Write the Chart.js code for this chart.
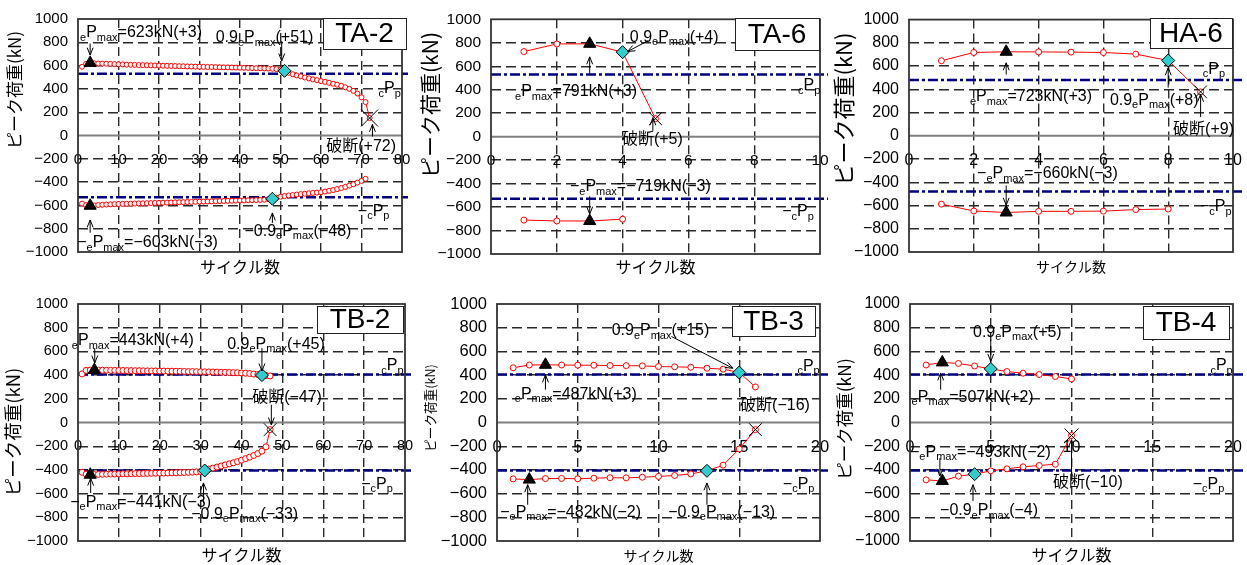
<!DOCTYPE html>
<html>
<head>
<meta charset="utf-8">
<script src="https://cdn.jsdelivr.net/npm/chart.js@4.4.0/dist/chart.umd.min.js"></script>
<style>
  body { margin: 0; background: #fff; width: 1247px; height: 565px; position: relative; overflow: hidden; }
  canvas { position: absolute; }
</style>
</head>
<body>
<canvas id="c1" style="left:0;top:0"></canvas>
<canvas id="c2" style="left:415px;top:0"></canvas>
<canvas id="c3" style="left:830px;top:0"></canvas>
<canvas id="c4" style="left:0;top:283px"></canvas>
<canvas id="c5" style="left:415px;top:283px"></canvas>
<canvas id="c6" style="left:830px;top:283px"></canvas>
<script>
// peak load per cycle (kN), cycle = index + 1
const ta2Pos = [590, 615, 623, 620, 618, 617, 616, 615, 613, 611,
  610, 608, 607, 606, 605, 604, 603, 602, 601, 600,
  599, 598, 597, 596, 595, 594, 593, 592, 591, 590,
  589, 588, 588, 587, 586, 585, 585, 584, 583, 582,
  581, 580, 579, 578, 577, 576, 575, 573, 570, 566,
  555, 538, 526, 516, 508, 498, 490, 482, 475, 467,
  460, 452, 444, 436, 426, 414, 400, 383, 360, 328,
  287, 150];
const ta2Neg = [-585, -598, -603, -600, -597, -595, -593, -591, -589, -588,
  -587, -586, -585, -584, -583, -582, -581, -580, -579, -578,
  -577, -576, -575, -574, -573, -572, -571, -570, -569, -568,
  -567, -566, -565, -564, -563, -562, -561, -560, -559, -558,
  -557, -556, -555, -554, -553, -551, -548, -543, -533, -526,
  -520, -515, -511, -507, -503, -500, -496, -493, -490, -487,
  -481, -475, -468, -460, -451, -441, -430, -418, -405, -390,
  -372];
const ta6Pos = [725, 790, 791, 720, 153];
const ta6Neg = [-711, -718, -719, -703];
const ha6Pos = [646, 717, 723, 722, 720, 717, 703, 648, 378];
const ha6Neg = [-588, -647, -660, -650, -650, -648, -635, -630];
const tb2Pos = [410, 440, 442, 443, 442, 441, 441, 440, 440, 439,
  439, 438, 438, 437, 437, 436, 436, 435, 435, 434,
  434, 433, 433, 432, 432, 431, 430, 430, 429, 428,
  428, 427, 426, 425, 424, 423, 422, 421, 420, 418,
  416, 413, 409, 405, 400, 397, 393];
const tb2Neg = [-420, -436, -441, -440, -438, -437, -436, -435, -435, -434,
  -433, -433, -432, -431, -431, -430, -429, -429, -428, -427,
  -427, -426, -425, -424, -423, -422, -421, -419, -417, -414,
  -405, -393, -385, -376, -367, -358, -349, -340, -330, -318,
  -305, -292, -278, -262, -242, -205, -60];
const tb3Pos = [462, 485, 487, 485, 484, 483, 481, 480, 478, 472, 470, 466, 458, 450, 422, 300];
const tb3Neg = [-476, -482, -473, -472, -475, -470, -466, -467, -462, -455, -447, -434, -408, -360, -223, -60];
const tb4Pos = [485, 507, 498, 477, 452, 430, 416, 405, 388, 368];
const tb4Neg = [-484, -493, -453, -436, -408, -391, -374, -363, -352, -110];

// marked cycles: + = positive side, - = negative side
const ta2Peak = [3, -3], ta2Deg = [51, -48], ta2Brk = [72];
const ta6Peak = [3, -3], ta6Deg = [4], ta6Brk = [5];
const ha6Peak = [3, -3], ha6Deg = [8], ha6Brk = [9];
const tb2Peak = [4, -3], tb2Deg = [45, -31], tb2Brk = [-47];
const tb3Peak = [3, -2], tb3Deg = [15, -13], tb3Brk = [-16];
const tb4Peak = [2, -2], tb4Deg = [5, -4], tb4Brk = [-10];

// cPp levels (kN)
const taCpp = 530, haCpp = 480, tbCpp = 405;

// text notes [text, x, y], [..] = subscript ; arrows [x1, y1, x2, y2] in data units
const ta2Notes = [['[e]P[max]=623kN(+3)', 0.5, 895], ['0.9[e]P[max](+51)', 34, 852], ['[c]P[p]', 74.2, 410],
  ['破断(+72)', 61.3, -85], ['−[c]P[p]', 69.1, -640], ['−0.9[e]P[max](−48)', 41.1, -810], ['−[e]P[max]=−603kN(−3)', -0.2, -910]];
const ta2Arrows = [[3, 790, 3, 690], [50.3, 810, 50.3, 640], [72.7, -10, 72.7, 95], [3, -835, 3, -725], [48, -750, 48, -665]];
const ta6Notes = [['0.9[e]P[max](+4)', 4.22, 859], ['[e]P[max]=791kN(+3)', 0.73, 395], ['破断(+5)', 3.98, -15],
  ['−[e]P[max]=−719kN(−3)', 2.4, -418], ['[c]P[p]', 9.33, 446], ['−[c]P[p]', 8.85, -627]];
const ta6Arrows = [[4.77, 817, 4.15, 725], [3, 538, 3, 680], [4.92, 50, 4.92, 160], [3, -508, 3, -660]];
const ha6Notes = [['[e]P[max]=723kN(+3)', 1.88, 348], ['0.9[e]P[max](+8)', 6.2, 315], ['破断(+9)', 8.15, 62],
  ['[c]P[p]', 9.07, 585], ['−[c]P[p]', 8.98, -600], ['−[e]P[max]=−660kN(−3)', 2.1, -316]];
const ha6Arrows = [[3, 527, 3, 628], [8, 415, 8, 585], [9, 162, 9, 357], [3, -428, 3, -597]];
const tb2Notes = [['[e]P[max]=443kN(+4)', -1.5, 699], ['0.9[e]P[max](+45)', 36.5, 671], ['破断(−47)', 42.6, 224],
  ['[c]P[p]', 74.2, 488], ['−[c]P[p]', 69.3, -510], ['−[e]P[max]=−441kN(−3)', -1.9, -662], ['−0.9[e]P[max](−33)', 27.7, -764]];
const tb2Arrows = [[4.1, 629, 4.1, 502], [45, 629, 45, 435], [47.3, 150, 47.3, -20], [3.1, -595, 3.1, -470], [30.7, -680, 30.7, -510]];
const tb3Notes = [['0.9[e]P[max](+15)', 7.1, 783], ['[e]P[max]=487kN(+3)', 1.1, 249], ['破断(−16)', 15.05, 150],
  ['[c]P[p]', 18.6, 486], ['−[c]P[p]', 17.7, -510], ['−[e]P[max]=−482kN(−2)', 0.2, -747], ['−0.9[e]P[max](−13)', 10.6, -747]];
const tb3Arrows = [[10.8, 726, 14.6, 458], [3, 277, 3, 402], [1.9, -694, 1.9, -525], [13, -694, 13, -510]];
const tb4Notes = [['0.9[e]P[max](+5)', 3.9, 772], ['[e]P[max]=507kN(+2)', 0.1, 224], ['−[e]P[max]=−493kN(−2)', 0, -240],
  ['−0.9[e]P[max](−4)', 1.86, -735], ['破断(−10)', 8.85, -494], ['[c]P[p]', 18.6, 488], ['−[c]P[p]', 17.5, -510]];
const tb4Arrows = [[5, 699, 5, 516], [1.9, 277, 1.9, 418], [1.85, -300, 1.85, -452], [3.9, -662, 3.9, -525], [10, -440, 10, -145]];

const FONT = '"Liberation Sans", Arial, "Noto Sans CJK JP", sans-serif';
const JFONT = '"Noto Sans CJK JP", sans-serif';

const panels = [
  { id: 'c1', w: 415, h: 283, area: [78, 15, 407, 252], name: 'TA-2', xMax: 80, xStep: 10, pos: ta2Pos, neg: ta2Neg,
    peak: ta2Peak, deg: ta2Deg, brk: ta2Brk, cpp: taCpp, notes: ta2Notes, arrows: ta2Arrows,
    box: [323, 18, 83, 31], yTitle: [15, 90, 17], xTitle: [267, 16], tick: 15, dot: 2.5, cross: 12, ext: 6 },
  { id: 'c2', w: 415, h: 283, area: [76, 15, 405, 254], name: 'TA-6', xMax: 10, xStep: 2, pos: ta6Pos, neg: ta6Neg,
    peak: ta6Peak, deg: ta6Deg, brk: ta6Brk, cpp: taCpp, notes: ta6Notes, arrows: ta6Arrows,
    box: [320, 18, 84, 32], yTitle: [15, 105, 21], xTitle: [267, 16], tick: 15.5, dot: 3, cross: 9, ext: 8 },
  { id: 'c3', w: 417, h: 283, area: [79, 15, 403, 252], name: 'HA-6', xMax: 10, xStep: 2, pos: ha6Pos, neg: ha6Neg,
    peak: ha6Peak, deg: ha6Deg, brk: ha6Brk, cpp: haCpp, notes: ha6Notes, arrows: ha6Arrows,
    box: [320, 18, 82, 30], yTitle: [14, 109, 22], xTitle: [267, 14], tick: 16, dot: 3, cross: 9, ext: 12 },
  { id: 'c4', w: 415, h: 282, area: [78, 21, 407, 258], name: 'TB-2', xMax: 80, xStep: 10, pos: tb2Pos, neg: tb2Neg,
    peak: tb2Peak, deg: tb2Deg, brk: tb2Brk, cpp: tbCpp, notes: tb2Notes, arrows: tb2Arrows,
    box: [317, 23, 86, 27], yTitle: [13, 149, 18.5], xTitle: [272, 16], tick: 14.5, dot: 3, cross: 9, ext: 8 },
  { id: 'c5', w: 415, h: 282, area: [82, 21, 405, 258], name: 'TB-3', xMax: 20, xStep: 5, pos: tb3Pos, neg: tb3Neg,
    peak: tb3Peak, deg: tb3Deg, brk: tb3Brk, cpp: tbCpp, notes: tb3Notes, arrows: tb3Arrows,
    box: [317, 23, 83, 30], yTitle: [15, 125, 12.6], xTitle: [273, 14], tick: 16.5, dot: 3, cross: 9, ext: 8 },
  { id: 'c6', w: 417, h: 282, area: [80, 21, 403, 258], name: 'TB-4', xMax: 20, xStep: 5, pos: tb4Pos, neg: tb4Neg,
    peak: tb4Peak, deg: tb4Deg, brk: tb4Brk, cpp: tbCpp, notes: tb4Notes, arrows: tb4Arrows,
    box: [313, 23, 86, 33], yTitle: [14, 136, 17.5], xTitle: [272, 16], tick: 16, dot: 3, cross: 10, ext: 12 }
];

// text with [subscript] parts, left aligned, vertically centred on y
function richText(ctx, str, x, y, size) {
  const big = size + 'px ' + FONT;
  const small = Math.round(size * 0.68) + 'px ' + FONT;
  let cx = x;
  ctx.textAlign = 'left';
  ctx.textBaseline = 'alphabetic';
  str.split(/(\[[^\]]*\])/).forEach(s => {
    if (!s) return;
    const sub = s[0] === '[';
    const t = sub ? s.slice(1, -1) : s;
    ctx.font = sub ? small : big;
    ctx.fillText(t, cx, y + size * 0.36 + (sub ? size * 0.22 : 0));
    cx += ctx.measureText(t).width;
  });
}

function arrow(ctx, x1, y1, x2, y2) {
  const a = Math.atan2(y2 - y1, x2 - x1), len = 8, sp = 0.38;
  ctx.beginPath();
  ctx.moveTo(x1, y1);
  ctx.lineTo(x2, y2);
  ctx.moveTo(x2 - len * Math.cos(a - sp), y2 - len * Math.sin(a - sp));
  ctx.lineTo(x2, y2);
  ctx.lineTo(x2 - len * Math.cos(a + sp), y2 - len * Math.sin(a + sp));
  ctx.stroke();
}

function makeDeco(p) {
  return {
    id: 'deco',
    beforeDatasetsDraw(chart) {
      const { ctx, chartArea: a, scales: { x, y } } = chart;
      ctx.save();
      const y0 = y.getPixelForValue(0);
      ctx.strokeStyle = '#808080';
      ctx.lineWidth = 2;
      ctx.beginPath();
      ctx.moveTo(a.left, y0);
      ctx.lineTo(a.right, y0);
      ctx.stroke();
      ctx.strokeStyle = '#000080';
      ctx.lineWidth = 2.5;
      ctx.setLineDash([10, 3, 3, 3]);
      [p.cpp, -p.cpp].forEach(v => {
        const py = y.getPixelForValue(v);
        ctx.beginPath();
        ctx.moveTo(a.left, py);
        ctx.lineTo(a.right + p.ext, py);
        ctx.stroke();
      });
      ctx.restore();
    },
    afterDraw(chart) {
      const { ctx, chartArea: a, scales: { x, y } } = chart;
      ctx.save();
      ctx.strokeStyle = '#333';
      ctx.lineWidth = 1.8;
      ctx.strokeRect(a.left, a.top, a.right - a.left, a.bottom - a.top);

      ctx.fillStyle = '#000';
      ctx.strokeStyle = '#000';
      ctx.lineWidth = 1;
      p.notes.forEach(n => richText(ctx, n[0], x.getPixelForValue(n[1]), y.getPixelForValue(n[2]), 16));
      p.arrows.forEach(r => arrow(ctx, x.getPixelForValue(r[0]), y.getPixelForValue(r[1]),
        x.getPixelForValue(r[2]), y.getPixelForValue(r[3])));

      const [bx, by, bw, bh] = p.box;
      ctx.fillStyle = '#fff';
      ctx.fillRect(bx, by, bw, bh);
      ctx.strokeStyle = '#222';
      ctx.strokeRect(bx + 0.5, by + 0.5, bw, bh);
      ctx.fillStyle = '#000';
      ctx.font = '28px ' + FONT;
      ctx.textAlign = 'center';
      ctx.textBaseline = 'middle';
      ctx.fillText(p.name, bx + bw / 2, by + bh / 2 + 1);

      ctx.font = p.xTitle[1] + 'px ' + JFONT;
      ctx.fillText('サイクル数', (a.left + a.right) / 2, p.xTitle[0]);

      ctx.translate(p.yTitle[0], p.yTitle[1]);
      ctx.rotate(-Math.PI / 2);
      ctx.font = p.yTitle[2] + 'px ' + JFONT;
      ctx.fillText('ピーク荷重(kN)', 0, 0);
      ctx.restore();
    }
  };
}

function makeChart(p) {
  const [L, T, R, B] = p.area;
  const at = c => ({ x: Math.abs(c), y: c > 0 ? p.pos[c - 1] : p.neg[-c - 1] });
  const series = arr => ({
    data: arr.map((v, i) => ({ x: i + 1, y: v })),
    borderColor: '#ff0000', borderWidth: 1, tension: 0,
    pointRadius: p.dot, pointBorderColor: '#ff0000', pointBackgroundColor: '#ffffff', pointBorderWidth: 1
  });
  const canvas = document.getElementById(p.id);
  canvas.width = p.w;
  canvas.height = p.h;
  new Chart(canvas, {
    type: 'line',
    data: {
      datasets: [
        { data: p.brk.map(at), showLine: false, pointStyle: 'crossRot', pointRadius: p.cross,
          pointBorderColor: '#000', pointBorderWidth: 1 },
        { data: p.peak.map(at), showLine: false, pointStyle: 'triangle', pointRadius: 7,
          pointBackgroundColor: '#000', pointBorderColor: '#000' },
        { data: p.deg.map(at), showLine: false, pointStyle: 'rectRot', pointRadius: 6.5,
          pointBackgroundColor: '#33cccc', pointBorderColor: '#000', pointBorderWidth: 1 },
        series(p.pos),
        series(p.neg)
      ]
    },
    options: {
      responsive: false,
      animation: false,
      layout: { padding: { left: 0, top: T, right: p.w - R, bottom: p.h - B } },
      plugins: { legend: { display: false }, tooltip: { enabled: false } },
      scales: {
        x: {
          type: 'linear', position: { y: 0 }, min: 0, max: p.xMax,
          ticks: { stepSize: p.xStep, padding: 15, color: '#000', maxRotation: 0, autoSkip: false,
            font: { family: FONT, size: p.tick } },
          grid: { drawTicks: false, lineWidth: 1.4,
            color: c => (c.tick && (c.tick.value === 0 || c.tick.value === p.xMax)) ? 'rgba(0,0,0,0)' : '#2a2a2a' },
          border: { display: false, dash: [9, 5] },
          afterFit: s => { s.paddingLeft = 0; s.paddingRight = 0; }
        },
        y: {
          min: -1000, max: 1000,
          ticks: { stepSize: 200, padding: 10, color: '#000', font: { family: FONT, size: p.tick },
            callback: v => String(v).replace('-', '−') },
          grid: { drawTicks: false, lineWidth: 1.4,
            color: c => (c.tick && Math.abs(c.tick.value) % 1000 === 0) ? 'rgba(0,0,0,0)' : '#2a2a2a' },
          border: { display: false, dash: [10, 5] },
          afterFit: s => { s.width = L; }
        }
      }
    },
    plugins: [makeDeco(p)]
  });
}

panels.forEach(makeChart);
</script>
</body>
</html>
